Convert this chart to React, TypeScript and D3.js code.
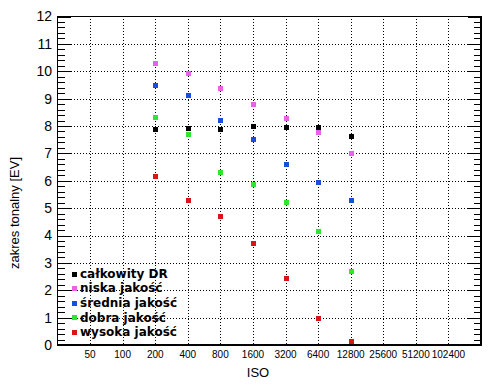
import * as d3 from "d3";

const isoValues = [200, 400, 800, 1600, 3200, 6400, 12800];
const isoTicks = [50, 100, 200, 400, 800, 1600, 3200, 6400, 12800, 25600, 51200, 102400];

const calkowityDR = [7.88, 7.93, 7.89, 8.0, 7.96, 7.96, 7.65];
const niskaJakosc = [10.31, 9.92, 9.39, 8.81, 8.29, 7.78, 7.01];
const sredniaJakosc = [9.5, 9.14, 8.22, 7.53, 6.61, 5.95, 5.29];
const dobraJakosc = [8.33, 7.71, 6.32, 5.88, 5.22, 4.16, 2.7];
const wysokaJakosc = [6.17, 5.29, 4.71, 3.72, 2.44, 0.98, 0.15];

const seriesNames = ["całkowity DR", "niska jakość", "średnia jakość", "dobra jakość", "wysoka jakość"];
const seriesColors = ["#000000", "#e662e6", "#1450dc", "#2ee62e", "#dc1414"];
const seriesValues = [calkowityDR, niskaJakosc, sredniaJakosc, dobraJakosc, wysokaJakosc];

const W = 494;
const H = 389;
const left = 57.5;
const right = 481;
const top = 16.5;
const bottom = 345;

export default function App() {
  const x = d3.scaleLog().base(2).domain([25, 204800]).range([left, right]);
  const y = d3.scaleLinear().domain([0, 12]).range([bottom, top]);

  const majors = y.ticks(12);
  const minors = d3.range(0, 12.001, 0.2).filter((v) => Math.abs(v - Math.round(v)) > 0.01);

  const font = "'Liberation Sans', Arial, sans-serif";

  return (
    <svg
      width={W}
      height={H}
      style={{ position: "absolute", left: 0, top: 0, background: "#fff" }}
      shapeRendering="crispEdges"
    >
      {/* grid */}
      <g stroke="#000" strokeWidth={1} strokeDasharray="1,2">
        {majors
          .filter((v) => v > 0 && v < 12)
          .map((v) => (
            <line key={"h" + v} x1={left + 13} x2={right - 13} y1={Math.round(y(v)) + 0.5} y2={Math.round(y(v)) + 0.5} />
          ))}
        {isoTicks.map((v) => (
          <line key={"v" + v} x1={Math.round(x(v)) + 0.5} x2={Math.round(x(v)) + 0.5} y1={top + 2} y2={bottom - 1} />
        ))}
      </g>

      {/* ticks */}
      <g stroke="#000" strokeWidth={1}>
        {majors.map((v) => (
          <g key={"mt" + v}>
            <line x1={left} x2={left + 13} y1={Math.round(y(v)) + 0.5} y2={Math.round(y(v)) + 0.5} />
            <line x1={right} x2={right - 13} y1={Math.round(y(v)) + 0.5} y2={Math.round(y(v)) + 0.5} />
          </g>
        ))}
        {minors.map((v) => (
          <g key={"nt" + v}>
            <line x1={left} x2={left + 7} y1={Math.round(y(v)) + 0.5} y2={Math.round(y(v)) + 0.5} />
            <line x1={right} x2={right - 7} y1={Math.round(y(v)) + 0.5} y2={Math.round(y(v)) + 0.5} />
          </g>
        ))}
      </g>

      {/* frame */}
      <rect x={left} y={top} width={right - left} height={bottom - top} fill="none" stroke="#000" strokeWidth={1.5} />

      {/* y tick labels */}
      <g fontFamily={font} fontSize={14} fill="#000" textAnchor="end">
        {majors.map((v) => (
          <text key={"yl" + v} x={52} y={y(v)} dy="0.35em">
            {v}
          </text>
        ))}
      </g>

      {/* x tick labels */}
      <g fontFamily={font} fontSize={10} fill="#000" textAnchor="middle">
        {isoTicks.map((v) => (
          <text key={"xl" + v} x={x(v)} y={358}>
            {v}
          </text>
        ))}
      </g>

      <text x={258} y={377} fontFamily={font} fontSize={13} textAnchor="middle">
        ISO
      </text>
      <text
        transform={`translate(19,${213}) rotate(-90)`}
        fontFamily={font}
        fontSize={13}
        textAnchor="middle"
      >
        zakres tonalny [EV]
      </text>

      {/* points */}
      {seriesValues.map((vals, si) => (
        <g key={"s" + si} fill={seriesColors[si]}>
          {vals.map((v, i) => (
            <rect key={i} x={Math.round(x(isoValues[i])) - 2} y={Math.round(y(v)) - 2} width={5} height={5} />
          ))}
        </g>
      ))}

      {/* legend */}
      <g fontFamily="'DejaVu Sans', sans-serif" fontWeight="bold" fontSize={12}>
        {seriesNames.map((name, i) => (
          <g key={"lg" + i} transform={`translate(72,${273.5 + i * 14.6})`}>
            <rect x={0} y={-2} width={5} height={5} fill={seriesColors[i]} />
            <text x={8} y={0} dy="0.35em" fill="#000">
              {name}
            </text>
          </g>
        ))}
      </g>
    </svg>
  );
}
